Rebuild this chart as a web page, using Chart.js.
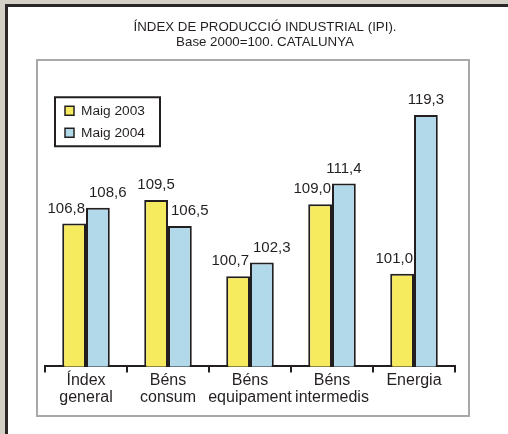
<!DOCTYPE html>
<html>
<head>
<meta charset="utf-8">
<script src="https://cdn.jsdelivr.net/npm/chart.js@4/dist/chart.umd.min.js"></script>
<style>
  body { margin: 0; width: 508px; height: 434px; overflow: hidden; position: relative; background: #d4d0c8; }
  #panel { position: absolute; left: 5px; top: 4px; right: -10px; bottom: -10px; background: #fff;
           border-left: 3px solid #2b2727; border-top: 3px solid #2b2727; }
  #frame { position: absolute; left: 36px; top: 59px; width: 430px; height: 354px; border: 2px solid #a8a8a8; }
  canvas { position: absolute; left: 0; top: 0; }
</style>
</head>
<body>
<div id="panel"></div>
<div id="frame"></div>
<canvas id="ipiChart" width="508" height="434"></canvas>
<script>
var titleLines = ['ÍNDEX DE PRODUCCIÓ INDUSTRIAL (IPI).', 'Base 2000=100. CATALUNYA']
var categories = [ ['Índex', 'general'], ['Béns', 'consum'], ['Béns', 'equipament'], ['Béns', 'intermedis'], 'Energia' ]
var seriesNames = [ 'Maig 2003', 'Maig 2004' ]
var may2003 = [ 106.8, 109.5, 100.7, 109.0, 101.0 ]
var may2004 = [ 108.6, 106.5, 102.3, 111.4, 119.3 ]

var ink = '#231f20'
var font = '"Liberation Sans", Arial, sans-serif'

function fmt(v) {
  return v.toFixed(1).replace('.', ',')
}

// value labels above the bars, nudged sideways like the original
var valueLabels = {
  id: 'valueLabels',
  afterDatasetsDraw: function (chart) {
    var ctx = chart.ctx
    var barsA = chart.getDatasetMeta(0).data
    var barsB = chart.getDatasetMeta(1).data
    ctx.save()
    ctx.font = '15px ' + font
    ctx.fillStyle = ink
    ctx.textBaseline = 'middle'
    barsA.forEach(function (a, i) {
      var b = barsB[i]
      var vA = may2003[i], vB = may2004[i]
      if (vA >= vB) {
        ctx.textAlign = 'center'
        ctx.fillText(fmt(vA), a.x, a.y - 15)
      } else {
        ctx.textAlign = 'right'
        ctx.fillText(fmt(vA), a.x + a.width / 2 - 1, a.y - 15)
      }
      if (vB - vA >= 2) {
        ctx.textAlign = 'center'
        ctx.fillText(fmt(vB), b.x, b.y - 15)
      } else {
        ctx.textAlign = 'left'
        ctx.fillText(fmt(vB), b.x - b.width / 2 + 3, b.y - 15)
      }
    })
    ctx.restore()
  }
}

// boxed legend inside the plot, top left
var boxLegend = {
  id: 'boxLegend',
  afterDraw: function (chart) {
    var ctx = chart.ctx
    var area = chart.chartArea
    var x0 = area.left + 10, y0 = area.top - 10
    ctx.save()
    ctx.lineWidth = 2
    ctx.strokeStyle = ink
    ctx.strokeRect(x0, y0, 105, 49)
    ctx.font = '13.7px ' + font
    ctx.textBaseline = 'middle'
    ctx.textAlign = 'left'
    chart.data.datasets.forEach(function (ds, i) {
      var cy = y0 + 13.5 + i * 22
      ctx.fillStyle = ds.backgroundColor
      ctx.fillRect(x0 + 10, cy - 4.5, 9, 9)
      ctx.lineWidth = 1.5
      ctx.strokeRect(x0 + 10, cy - 4.5, 9, 9)
      ctx.fillStyle = ink
      ctx.fillText(ds.label, x0 + 26, cy)
    })
    ctx.restore()
  }
}

var hidden = {
  ticks: { display: false },
  grid: { display: false },
  border: { display: false }
}

new Chart(document.getElementById('ipiChart'), {
  type: 'bar',
  data: {
    labels: categories,
    datasets: [
      { label: seriesNames[0], data: may2003, backgroundColor: '#f6ea5f', borderColor: ink, borderWidth: 2 },
      { label: seriesNames[1], data: may2004, backgroundColor: '#b1d9ea', borderColor: ink, borderWidth: 2 }
    ]
  },
  options: {
    responsive: false,
    animation: false,
    categoryPercentage: 0.58,
    barPercentage: 1,
    layout: { padding: { left: 22, right: 0, top: 0, bottom: 28 } },
    plugins: {
      legend: { display: false },
      tooltip: { enabled: false },
      title: {
        display: true,
        text: titleLines,
        color: ink,
        font: { family: font, size: 13.3, weight: 'normal', lineHeight: 1.1 },
        padding: { top: 20, bottom: 58 }
      }
    },
    scales: {
      x: {
        grid: { display: true, drawOnChartArea: false, offset: true, tickLength: 6, color: ink, lineWidth: 2 },
        border: { display: true, color: ink, width: 2 },
        ticks: { color: ink, padding: 0, maxRotation: 0, minRotation: 0, autoSkip: false,
                 font: { family: font, size: 16, lineHeight: 1.05 } }
      },
      y: Object.assign({ position: 'left', min: 90.3, max: 120.2,
        afterFit: function (s) { s.width = 23 } }, hidden),
      y2: Object.assign({ position: 'right',
        afterFit: function (s) { s.width = 53 } }, hidden)
    }
  },
  plugins: [ valueLabels, boxLegend ]
})
</script>
</body>
</html>
